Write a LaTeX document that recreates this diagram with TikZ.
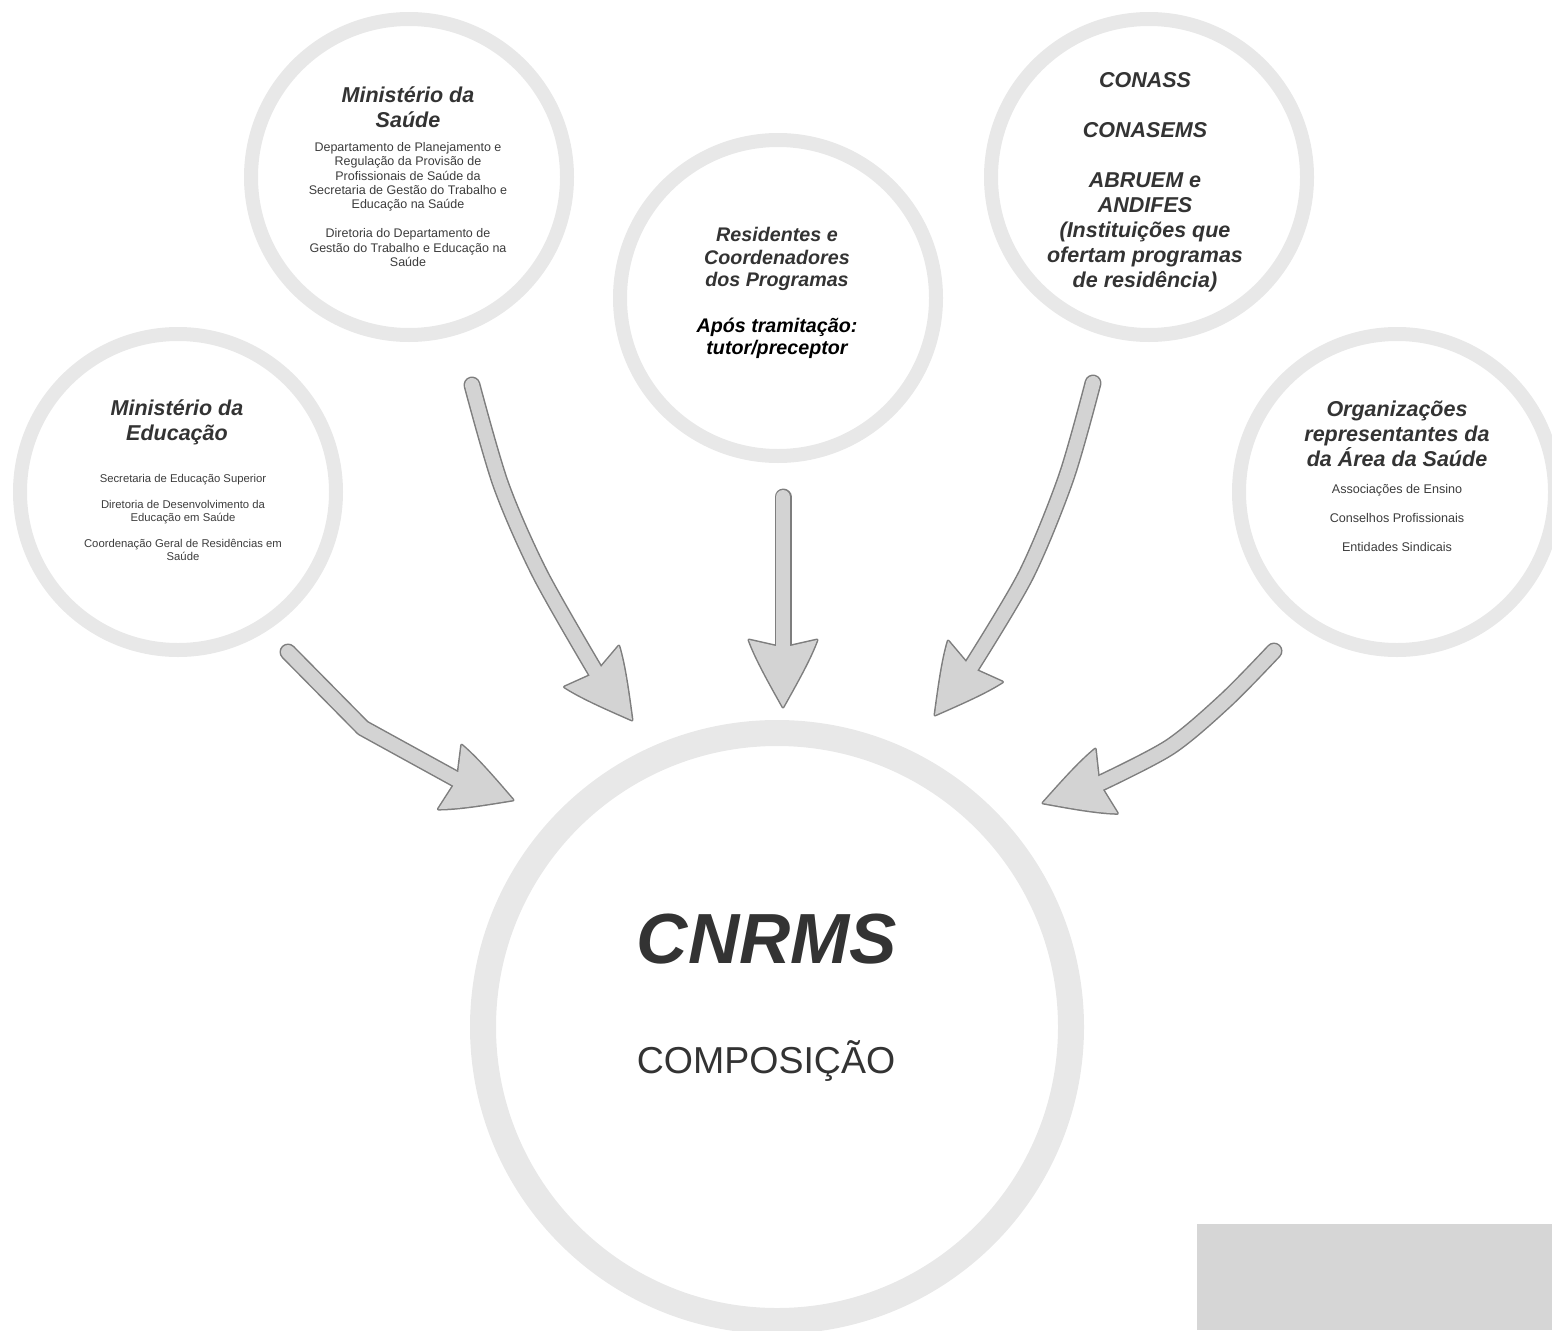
\documentclass[tikz,border=0pt]{standalone}
\usepackage{fontspec}
\setmainfont{Liberation Sans}
\usetikzlibrary{calc}
\definecolor{ringc}{HTML}{E8E8E8}
\definecolor{txt}{HTML}{333333}
\definecolor{bodytxt}{HTML}{3C3C3C}
\definecolor{afill}{HTML}{D3D3D3}
\definecolor{aline}{HTML}{7E7E7E}
\definecolor{boxgray}{HTML}{D6D6D6}
\begin{document}
\begin{tikzpicture}[x=1pt,y=1pt,
  ringsmall/.style={circle, draw=ringc, line width=14pt, minimum size=316pt, inner sep=0pt, outer sep=0pt},
  ringbig/.style={circle, draw=ringc, line width=26pt, minimum size=588pt, inner sep=0pt, outer sep=0pt},
  titletext/.style={font=\fontsize{21.5}{25}\selectfont\bfseries\itshape, text=txt, align=center, inner sep=0pt},
  restext/.style={font=\fontsize{19.7}{22.7}\selectfont\bfseries\itshape, text=txt, align=center, inner sep=0pt},
  bodyms/.style={font=\fontsize{12.5}{14.4}\selectfont, text=bodytxt, align=center, inner sep=0pt},
  bodymed/.style={font=\fontsize{11.3}{13}\selectfont, text=bodytxt, align=center, inner sep=0pt},
  bodyorg/.style={font=\fontsize{12.6}{14.5}\selectfont, text=bodytxt, align=center, inner sep=0pt},
  shaftout/.style={draw=aline, line width=17pt, line cap=round, line join=round},
  shaftin/.style={draw=afill, line width=14pt, line cap=round, line join=round},
  ahead/.pic={\path[pic actions] (0,0) .. controls (-25,14) and (-48,27) .. (-67,34) -- (-61,7.5) -- (-61,-7.5) -- (-67,-34) .. controls (-48,-27) and (-25,-14) .. cycle;}
]
\useasboundingbox (0,0) rectangle (1552,-1330);
\clip (0,0) rectangle (1552,-1330);

% circles
\node[ringsmall] (ms) at (409,-177) {};
\node[ringsmall] (med) at (178,-492) {};
\node[ringsmall] (res) at (778,-298) {};
\node[ringsmall] (conass) at (1149,-177) {};
\node[ringsmall] (org) at (1397,-492) {};
\node[ringbig] (cnrms) at (777,-1027) {};

% grey box
\fill[boxgray] (1197,-1224) rectangle (1552,-1330);

% texts
\node[titletext] (mstitle) at (408,-107.5) {Ministério da\\Saúde};
\node[bodyms] (msbody) at (408,-204.5) {Departamento de Planejamento e\\Regulação da Provisão de\\Profissionais de Saúde da\\Secretaria de Gestão do Trabalho e\\Educação na Saúde\\[14.4pt]Diretoria do Departamento de\\Gestão do Trabalho e Educação na\\Saúde};
\node[titletext] (medtitle) at (177,-422.5) {Ministério da\\Educação};
\node[bodymed] (medbody) at (183,-517.5) {Secretaria de Educação Superior\\[13pt]Diretoria de Desenvolvimento da\\Educação em Saúde\\[13pt]Coordenação Geral de Residências em\\Saúde};
\node[restext] (restitle) at (777,-293) {Residentes e\\Coordenadores\\dos Programas\\[22.7pt]{\color{black}Após tramitação:}\\{\color{black}tutor/preceptor}};
\node[titletext] (conasstitle) at (1145,-182.5) {CONASS\\[25pt]CONASEMS\\[25pt]ABRUEM e\\ANDIFES\\(Instituições que\\ofertam programas\\de residência)};
\node[titletext] (orgtitle) at (1397,-434) {Organizações\\representantes da\\da Área da Saúde};
\node[bodyorg] (orgbody) at (1397,-517.5) {Associações de Ensino\\[14.5pt]Conselhos Profissionais\\[14.5pt]Entidades Sindicais};
\node[font=\fontsize{71}{80}\selectfont\bfseries\itshape, text=txt, anchor=base, inner sep=0pt] (cnrmstitle) at (767,-963) {CNRMS};
\node[font=\fontsize{37.5}{45}\selectfont, text=txt, anchor=base, inner sep=0pt] (comp) at (766,-1073) {COMPOSIÇÃO};

% arrow coordinates
\coordinate (a1s) at ($(med.center)+(110,-160)$);
\coordinate (a1b) at (363,-728);
\coordinate (a1t) at ($(cnrms.center)+(-264,227)$);
\coordinate (a1e) at ($(a1t)+(160:60)$);

\coordinate (a2s) at ($(ms.center)+(63,-208)$);
\coordinate (a2m1) at (501,-485);
\coordinate (a2m2) at (540,-574);
\coordinate (a2t) at ($(cnrms.center)+(-145,307)$);
\coordinate (a2e) at ($(a2t)+(127:60)$);

\coordinate (a3s) at ($(res.center)+(5,-199)$);
\coordinate (a3t) at ($(cnrms.center)+(6,320)$);
\coordinate (a3e) at ($(a3t)+(90:60)$);

\coordinate (a4s) at ($(conass.center)+(-56,-206)$);
\coordinate (a4m1) at (1066,-478);
\coordinate (a4m2) at (1026,-575);
\coordinate (a4t) at ($(cnrms.center)+(158,312)$);
\coordinate (a4e) at ($(a4t)+(53:60)$);

\coordinate (a5s) at ($(org.center)+(-123,-159)$);
\coordinate (a5m1) at (1226,-700);
\coordinate (a5m2) at (1170,-747);
\coordinate (a5t) at ($(cnrms.center)+(266,224)$);
\coordinate (a5e) at ($(a5t)+(19:60)$);

% arrow 1
\draw[shaftout] (a1s) -- (a1b) -- (a1e);
\pic[rotate=-20, draw=aline, line width=3pt, line join=round] at (a1t) {ahead};
\draw[shaftin] (a1s) -- (a1b) -- (a1e);
\pic[rotate=-20, fill=afill] at (a1t) {ahead};

% arrow 2
\draw[shaftout] plot[smooth, tension=0.5] coordinates {(a2s) (a2m1) (a2m2) (a2e)};
\pic[rotate=-53, draw=aline, line width=3pt, line join=round] at (a2t) {ahead};
\draw[shaftin] plot[smooth, tension=0.5] coordinates {(a2s) (a2m1) (a2m2) (a2e)};
\pic[rotate=-53, fill=afill] at (a2t) {ahead};

% arrow 3
\draw[shaftout] (a3s) -- (a3e);
\pic[rotate=-90, draw=aline, line width=3pt, line join=round] at (a3t) {ahead};
\draw[shaftin] (a3s) -- (a3e);
\pic[rotate=-90, fill=afill] at (a3t) {ahead};

% arrow 4
\draw[shaftout] plot[smooth, tension=0.5] coordinates {(a4s) (a4m1) (a4m2) (a4e)};
\pic[rotate=-127, draw=aline, line width=3pt, line join=round] at (a4t) {ahead};
\draw[shaftin] plot[smooth, tension=0.5] coordinates {(a4s) (a4m1) (a4m2) (a4e)};
\pic[rotate=-127, fill=afill] at (a4t) {ahead};

% arrow 5
\draw[shaftout] plot[smooth, tension=0.5] coordinates {(a5s) (a5m1) (a5m2) (a5e)};
\pic[rotate=-161, draw=aline, line width=3pt, line join=round] at (a5t) {ahead};
\draw[shaftin] plot[smooth, tension=0.5] coordinates {(a5s) (a5m1) (a5m2) (a5e)};
\pic[rotate=-161, fill=afill] at (a5t) {ahead};
\end{tikzpicture}
\end{document}
